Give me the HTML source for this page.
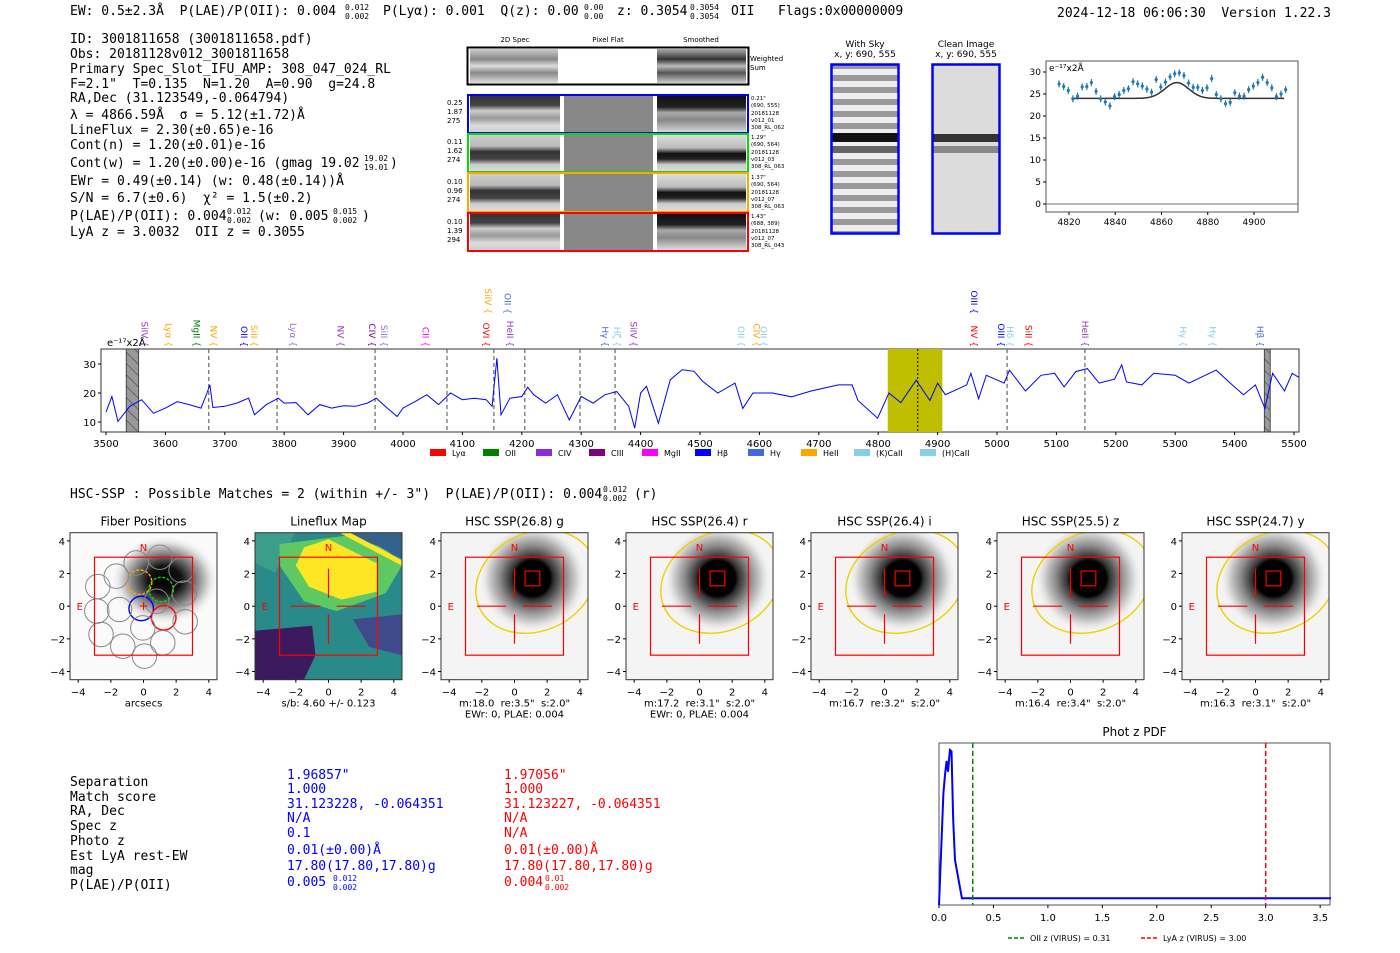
<!DOCTYPE html>
<html><head><meta charset="utf-8">
<style>
html,body{margin:0;padding:0;background:#fff;}
svg{display:block;}
svg text{white-space:pre;}
.m{font-family:"DejaVu Sans Mono","Liberation Mono",monospace;font-size:13px;fill:#000;}
.m[font-size="8"]{font-size:8px;}
.s{font-family:"DejaVu Sans","Liberation Sans",sans-serif;}
</style></head>
<body>
<svg id="root" width="1400" height="953" viewBox="0 0 1400 953" xmlns="http://www.w3.org/2000/svg" xml:space="preserve">
<defs>
<linearGradient id="gws" x1="0" y1="0" x2="0" y2="1">
<stop offset="0" stop-color="#ccc"/><stop offset="0.3" stop-color="#888"/><stop offset="0.5" stop-color="#ddd"/><stop offset="0.7" stop-color="#888"/><stop offset="1" stop-color="#ddd"/>
</linearGradient>
<linearGradient id="gsm" x1="0" y1="0" x2="0" y2="1">
<stop offset="0" stop-color="#aaa"/><stop offset="0.3" stop-color="#333"/><stop offset="0.5" stop-color="#bbb"/><stop offset="0.7" stop-color="#555"/><stop offset="1" stop-color="#ccc"/>
</linearGradient>
<linearGradient id="gTop" x1="0" y1="0" x2="0" y2="1">
<stop offset="0" stop-color="#333"/><stop offset="0.25" stop-color="#444"/><stop offset="0.4" stop-color="#ccc"/><stop offset="0.6" stop-color="#999"/><stop offset="0.8" stop-color="#ddd"/><stop offset="1" stop-color="#ccc"/>
</linearGradient>
<linearGradient id="gMid" x1="0" y1="0" x2="0" y2="1">
<stop offset="0" stop-color="#ccc"/><stop offset="0.3" stop-color="#bbb"/><stop offset="0.45" stop-color="#333"/><stop offset="0.65" stop-color="#444"/><stop offset="0.8" stop-color="#ccc"/><stop offset="1" stop-color="#ddd"/>
</linearGradient>
<linearGradient id="sTop" x1="0" y1="0" x2="0" y2="1">
<stop offset="0" stop-color="#111"/><stop offset="0.3" stop-color="#222"/><stop offset="0.45" stop-color="#aaa"/><stop offset="0.65" stop-color="#888"/><stop offset="1" stop-color="#ddd"/>
</linearGradient>
<linearGradient id="sMid" x1="0" y1="0" x2="0" y2="1">
<stop offset="0" stop-color="#ddd"/><stop offset="0.35" stop-color="#bbb"/><stop offset="0.5" stop-color="#111"/><stop offset="0.65" stop-color="#222"/><stop offset="0.8" stop-color="#ccc"/><stop offset="1" stop-color="#ddd"/>
</linearGradient>
<pattern id="sky" width="10" height="12" patternUnits="userSpaceOnUse">
<rect width="10" height="12" fill="#eee"/><rect y="3" width="10" height="6" fill="#999"/>
</pattern>
<radialGradient id="blob" cx="0.5" cy="0.5" r="0.5">
<stop offset="0" stop-color="#000"/><stop offset="0.33" stop-color="#000"/><stop offset="0.4" stop-color="#333"/><stop offset="0.6" stop-color="#888"/><stop offset="0.85" stop-color="#ddd"/><stop offset="1" stop-color="#f6f6f6" stop-opacity="0"/>
</radialGradient>
<radialGradient id="fblob" cx="0.5" cy="0.5" r="0.5">
<stop offset="0" stop-color="#000"/><stop offset="0.3" stop-color="#111"/><stop offset="0.55" stop-color="#777"/><stop offset="0.8" stop-color="#ddd"/><stop offset="1" stop-color="#fff" stop-opacity="0"/>
</radialGradient>
<pattern id="hatch" width="8" height="8" patternUnits="userSpaceOnUse" patternTransform="rotate(-45)">
<rect width="8" height="8" fill="#999"/><line x1="0" y1="0" x2="0" y2="8" stroke="#333" stroke-width="1"/>
</pattern>
</defs>

<g>
<text class="m" x="70" y="15">EW: 0.5±2.3Å  P(LAE)/P(OII): 0.004</text>
<text class="m" x="345" y="10" font-size="8">0.012</text><text class="m" x="345" y="19" font-size="8">0.002</text>
<text class="m" x="383" y="15">P(Lyα): 0.001  Q(z): 0.00</text>
<text class="m" x="584" y="10" font-size="8">0.00</text><text class="m" x="584" y="19" font-size="8">0.00</text>
<text class="m" x="617" y="15">z: 0.3054</text>
<text class="m" x="690" y="10" font-size="8">0.3054</text><text class="m" x="690" y="19" font-size="8">0.3054</text>
<text class="m" x="731" y="15">OII   Flags:0x00000009</text>
<text class="m" x="1057" y="17">2024-12-18 06:06:30  Version 1.22.3</text>
</g>

<g>
<text class="m" x="70" y="43">ID: 3001811658 (3001811658.pdf)</text>
<text class="m" x="70" y="58">Obs: 20181128v012_3001811658</text>
<text class="m" x="70" y="73">Primary Spec_Slot_IFU_AMP: 308_047_024_RL</text>
<text class="m" x="70" y="88">F=2.1"  T=0.135  N=1.20  A=0.90  g=24.8</text>
<text class="m" x="70" y="102">RA,Dec (31.123549,-0.064794)</text>
<text class="m" x="70" y="119">λ = 4866.59Å  σ = 5.12(±1.72)Å</text>
<text class="m" x="70" y="134">LineFlux = 2.30(±0.65)e-16</text>
<text class="m" x="70" y="149">Cont(n) = 1.20(±0.01)e-16</text>
<text class="m" x="70" y="167">Cont(w) = 1.20(±0.00)e-16 (gmag 19.02</text>
<text class="m" x="364" y="161" font-size="8">19.02</text><text class="m" x="364" y="170" font-size="8">19.01</text>
<text class="m" x="390" y="167">)</text>
<text class="m" x="70" y="185">EWr = 0.49(±0.14) (w: 0.48(±0.14))Å</text>
<text class="m" x="70" y="202">S/N = 6.7(±0.6)  χ² = 1.5(±0.2)</text>
<text class="m" x="70" y="220">P(LAE)/P(OII): 0.004</text>
<text class="m" x="227" y="214" font-size="8">0.012</text><text class="m" x="227" y="223" font-size="8">0.002</text>
<text class="m" x="258" y="220">(w: 0.005</text>
<text class="m" x="333" y="214" font-size="8">0.015</text><text class="m" x="333" y="223" font-size="8">0.002</text>
<text class="m" x="362" y="220">)</text>
<text class="m" x="70" y="236">LyA z = 3.0032  OII z = 0.3055</text>
</g>

<g class="s">
<text x="515" y="42" font-size="7" text-anchor="middle">2D Spec</text>
<text x="608" y="42" font-size="7" text-anchor="middle">Pixel Flat</text>
<text x="701" y="42" font-size="7" text-anchor="middle">Smoothed</text>
<g>
<rect x="470" y="49" width="88" height="34" fill="url(#gws)"/>
<rect x="657" y="49" width="89" height="34" fill="url(#gsm)"/>
<rect x="467.5" y="47.5" width="281" height="37" fill="none" stroke="#000" stroke-width="2"/>
<text x="750" y="61" font-size="7">Weighted</text><text x="750" y="70" font-size="7">Sum</text>
</g>
<g>
<rect x="470" y="96" width="90" height="37" fill="url(#gTop)"/><rect x="564" y="96" width="89" height="37" fill="#888"/><rect x="657" y="96" width="89" height="37" fill="url(#sTop)"/>
<rect x="468" y="95" width="280" height="38" fill="none" stroke="#0000ff" stroke-width="2"/>
<text x="447" y="105" font-size="7">0.25</text><text x="447" y="114" font-size="7">1.87</text><text x="447" y="123" font-size="7">275</text>
<text x="751" y="100" font-size="5.5">0.21"</text><text x="751" y="107" font-size="5.5">(690, 555)</text><text x="751" y="115" font-size="5.5">20181128</text><text x="751" y="122" font-size="5.5">v012_01</text><text x="751" y="129" font-size="5.5">308_RL_062</text>
</g>
<g>
<rect x="470" y="135" width="90" height="37" fill="url(#gMid)"/><rect x="564" y="135" width="89" height="37" fill="#888"/><rect x="657" y="135" width="89" height="37" fill="url(#sMid)"/>
<rect x="468" y="134" width="280" height="38" fill="none" stroke="#00e000" stroke-width="2"/>
<text x="447" y="144" font-size="7">0.11</text><text x="447" y="153" font-size="7">1.62</text><text x="447" y="162" font-size="7">274</text>
<text x="751" y="139" font-size="5.5">1.29"</text><text x="751" y="146" font-size="5.5">(690, 564)</text><text x="751" y="154" font-size="5.5">20181128</text><text x="751" y="161" font-size="5.5">v012_03</text><text x="751" y="168" font-size="5.5">308_RL_063</text>
</g>
<g>
<rect x="470" y="174" width="90" height="37" fill="url(#gMid)"/><rect x="564" y="174" width="89" height="37" fill="#888"/><rect x="657" y="174" width="89" height="37" fill="url(#sMid)"/>
<rect x="468" y="173" width="280" height="39" fill="none" stroke="#ffa500" stroke-width="2"/>
<text x="447" y="184" font-size="7">0.10</text><text x="447" y="193" font-size="7">0.96</text><text x="447" y="202" font-size="7">274</text>
<text x="751" y="179" font-size="5.5">1.37"</text><text x="751" y="186" font-size="5.5">(690, 564)</text><text x="751" y="194" font-size="5.5">20181128</text><text x="751" y="201" font-size="5.5">v012_07</text><text x="751" y="208" font-size="5.5">308_RL_063</text>
</g>
<g>
<rect x="470" y="214" width="90" height="36" fill="url(#gTop)"/><rect x="564" y="214" width="89" height="36" fill="#888"/><rect x="657" y="214" width="89" height="36" fill="url(#sTop)"/>
<rect x="468" y="213" width="280" height="38" fill="none" stroke="#ff0000" stroke-width="2"/>
<text x="447" y="224" font-size="7">0.10</text><text x="447" y="233" font-size="7">1.39</text><text x="447" y="242" font-size="7">294</text>
<text x="751" y="218" font-size="5.5">1.43"</text><text x="751" y="225" font-size="5.5">(688, 389)</text><text x="751" y="233" font-size="5.5">20181128</text><text x="751" y="240" font-size="5.5">v012_07</text><text x="751" y="247" font-size="5.5">308_RL_043</text>
</g>
</g>

<g class="s">
<text x="865" y="47" font-size="9" text-anchor="middle">With Sky</text>
<text x="865" y="57" font-size="9" text-anchor="middle">x, y: 690, 555</text>
<rect x="832" y="65" width="66" height="168" fill="url(#sky)"/>
<rect x="832" y="133" width="66" height="9" fill="#111"/>
<rect x="832" y="146" width="66" height="7" fill="#666"/>
<rect x="831.5" y="64.5" width="67" height="169" fill="none" stroke="#0000ff" stroke-width="2.5"/>
</g>
<g class="s">
<text x="966" y="47" font-size="9" text-anchor="middle">Clean Image</text>
<text x="966" y="57" font-size="9" text-anchor="middle">x, y: 690, 555</text>
<rect x="933" y="65" width="66" height="168" fill="#dcdcdc"/>
<rect x="933" y="134" width="66" height="8" fill="#333"/>
<rect x="933" y="146" width="66" height="7" fill="#888"/>
<rect x="932.5" y="64.5" width="67" height="169" fill="none" stroke="#0000ff" stroke-width="2.5"/>
</g>

<g id="fitChart" class="s"></g>
<g id="specChart" class="s"></g>

<g>
<text class="m" x="70" y="498">HSC-SSP : Possible Matches = 2 (within +/- 3")  P(LAE)/P(OII): 0.004</text>
<text class="m" x="603" y="492" font-size="8">0.012</text><text class="m" x="603" y="501" font-size="8">0.002</text>
<text class="m" x="634" y="498">(r)</text>
</g>

<g id="cutouts" class="s"></g>

<g>
<text class="m" x="70" y="786">Separation</text>
<text class="m" x="70" y="801">Match score</text>
<text class="m" x="70" y="815">RA, Dec</text>
<text class="m" x="70" y="830">Spec z</text>
<text class="m" x="70" y="845">Photo z</text>
<text class="m" x="70" y="860">Est LyA rest-EW</text>
<text class="m" x="70" y="874">mag</text>
<text class="m" x="70" y="889">P(LAE)/P(OII)</text>
<text class="m" style="fill:#0000ff" x="287" y="779">1.96857"</text>
<text class="m" style="fill:#0000ff" x="287" y="793">1.000</text>
<text class="m" style="fill:#0000ff" x="287" y="808">31.123228, -0.064351</text>
<text class="m" style="fill:#0000ff" x="287" y="822">N/A</text>
<text class="m" style="fill:#0000ff" x="287" y="837">0.1</text>
<text class="m" style="fill:#0000ff" x="287" y="854">0.01(±0.00)Å</text>
<text class="m" style="fill:#0000ff" x="287" y="870">17.80(17.80,17.80)g</text>
<text class="m" style="fill:#0000ff" x="287" y="886">0.005</text>
<text class="m" style="fill:#0000ff" x="333" y="881" font-size="8">0.012</text><text class="m" style="fill:#0000ff" x="333" y="890" font-size="8">0.002</text>
<text class="m" style="fill:#ff0000" x="504" y="779">1.97056"</text>
<text class="m" style="fill:#ff0000" x="504" y="793">1.000</text>
<text class="m" style="fill:#ff0000" x="504" y="808">31.123227, -0.064351</text>
<text class="m" style="fill:#ff0000" x="504" y="822">N/A</text>
<text class="m" style="fill:#ff0000" x="504" y="837">N/A</text>
<text class="m" style="fill:#ff0000" x="504" y="854">0.01(±0.00)Å</text>
<text class="m" style="fill:#ff0000" x="504" y="870">17.80(17.80,17.80)g</text>
<text class="m" style="fill:#ff0000" x="504" y="886">0.004</text>
<text class="m" style="fill:#ff0000" x="545" y="881" font-size="8">0.01</text><text class="m" style="fill:#ff0000" x="545" y="890" font-size="8">0.002</text>
</g>

<g id="pdfChart" class="s"></g>
</svg>

<script>
// ---------- Line fit chart data ----------
const fitWave0 = 4815.7;
const fitFlux = [27.3,26.7,25.8,23.9,24.5,26.6,26.7,27.6,25.6,23.9,23.2,22.3,24.4,24.9,25.8,26.2,27.8,27.3,26.8,26.1,25.4,28.3,26.6,27.7,28.9,29.6,29.8,29.2,27.5,26.5,26.5,25.8,26.4,28.5,24.9,23.9,22.8,23.1,25.3,24.5,24.5,26.0,26.8,27.6,28.8,27.6,26.4,24.4,25.0,26.0];
const fitErr = [0.8,0.8,0.8,0.8,0.8,0.8,0.8,0.8,0.8,0.8,0.8,0.8,0.8,0.8,0.8,0.8,0.8,0.8,0.8,0.8,0.8,0.8,0.8,0.8,0.8,0.8,0.8,0.8,0.8,0.8,0.8,0.8,0.8,0.8,0.8,0.8,0.8,0.8,0.8,0.8,0.8,0.8,0.8,0.8,0.8,0.8,0.8,0.8,0.8,0.8];
const fitXTicks = [4820,4840,4860,4880,4900];
const fitYTicks = [0,5,10,15,20,25,30];
const fitModel = {cont:24.0, amp:3.6, center:4866.6, sigma:5.12, from:4821, to:4913};

// ---------- Full spectrum data ----------
const specWave = [3500,3510,3520,3540,3560,3580,3600,3620,3640,3660,3670,3675,3680,3700,3720,3740,3750,3770,3790,3800,3820,3840,3860,3880,3900,3920,3940,3955,3970,3990,4000,4020,4040,4060,4080,4100,4120,4140,4150,4158,4165,4180,4200,4210,4220,4240,4260,4280,4300,4320,4340,4360,4380,4390,4400,4410,4430,4450,4470,4490,4504,4530,4559,4572,4589,4622,4654,4687,4733,4756,4766,4799,4818,4838,4864,4887,4900,4913,4949,4956,4969,4982,5012,5021,5048,5074,5097,5113,5133,5152,5172,5198,5210,5218,5244,5264,5300,5323,5369,5396,5415,5435,5451,5464,5484,5497,5508];
const specFlux = [13.4,18.8,10.2,15.4,17.7,13,14.8,17,16,14.8,20,22.8,15,15.4,16.5,18.2,12.5,16,18.2,16.5,16.7,12.5,16,14.8,15.6,15.4,16.5,18.2,15.4,11.9,14.8,17,19.4,16,20,17.7,18.2,17.7,15.4,32,12.5,18.2,18.8,22,19.4,16.5,19.4,10.7,18.8,16.5,19.4,20.5,15.4,7.9,20,22.3,9.6,24.6,28,27.5,24.1,20,23.4,14.7,20,20,18.7,20.7,22.8,22.8,17.4,11.3,20,16.7,24.4,17.4,23.4,19.4,22.8,26.8,18,26.1,23.4,27.9,20.7,26.1,26.8,22.1,27.4,28.4,23.4,24.8,29.7,23.8,22.8,26.8,26.1,23.4,27.9,22.8,19.4,22.8,14.7,26.8,20.7,26.8,25.4];
const specXTicks = [3500,3600,3700,3800,3900,4000,4100,4200,4300,4400,4500,4600,4700,4800,4900,5000,5100,5200,5300,5400,5500];
const specYTicks = [10,20,30];
const dashWaves = [3673,3788,3953,4074,4153,4205,4298,4357,5017,5148];
const lineNames = ["SiIV","Lyα","MgII","NV","OII","SiII","Lyα","NV","CIV","SiII","CII","OVI","HeII","Hγ","Hζ","SiIV","SiIV","OII","OII","CIV","OII","NV","OIII","Hδ","SiII","HeII","Hγ","Hγ","Hβ","OIII"];
const lineWaves = [3565,3605,3652,3681,3732,3749,3815,3895,3948,3968,4038,4140,4180,4340,4360,4388,4143,4176,4569,4595,4607,4961,5007,5022,5053,5148,5313,5363,5443,4961];
const lineColors = ["#9932cc","#ffa500","#008000","#ffa500","#0000ff","#ffa500","#9370db","#9932cc","#800080","#9370db","#ff00ff","#ff0000","#9932cc","#4169e1","#87ceeb","#9932cc","#ffa500","#4169e1","#87ceeb","#ffa500","#87ceeb","#ff0000","#0000ff","#87ceeb","#ff0000","#9932cc","#87ceeb","#87ceeb","#4169e1","#0000ff"];
const lineRow = [0,0,0,0,0,0,0,0,0,0,0,0,0,0,0,0,1,1,0,0,0,0,0,0,0,0,0,0,0,1];
const legendNames = ["Lyα","OII","CIV","CIII","MgII","Hβ","Hγ","HeII","(K)CaII","(H)CaII"];
const legendColors = ["#ff0000","#008000","#8a2be2","#800080","#ff00ff","#0000ff","#4169e1","#ffa500","#87ceeb","#87ceeb"];

// ---------- Phot-z PDF ----------
const pdfZ = [0,0.04,0.055,0.07,0.083,0.1,0.115,0.13,0.147,0.21,3.6];
const pdfP = [0,0.72,0.84,0.93,0.86,1.0,0.99,0.55,0.29,0.043,0.043];
const pdfXTicks = [0,0.5,1.0,1.5,2.0,2.5,3.0,3.5];
const pdfOiiZ = 0.31;
const pdfLyaZ = 3.00;

// ---------- Cutout panels ----------
const panelTitles = ["Fiber Positions","Lineflux Map","HSC SSP(26.8) g","HSC SSP(26.4) r","HSC SSP(26.4) i","HSC SSP(25.5) z","HSC SSP(24.7) y"];
const panelLine1 = ["arcsecs","s/b: 4.60 +/- 0.123","m:18.0  re:3.5\"  s:2.0\"","m:17.2  re:3.1\"  s:2.0\"","m:16.7  re:3.2\"  s:2.0\"","m:16.4  re:3.4\"  s:2.0\"","m:16.3  re:3.1\"  s:2.0\""];
const panelLine2 = ["","","EWr: 0, PLAE: 0.004","EWr: 0, PLAE: 0.004","","",""];
const panelTicks = [-4,-2,0,2,4];
const fiberX = [-0.14,1.08,-0.24,1.24,-0.45,1.0,2.3,-2.8,-1.67,-2.86,-1.47,-2.6,-1.27,0.06,1.18,-0.04,2.5,2.55,0.8];
const fiberY = [-0.14,1.02,1.47,-0.71,2.65,3.0,2.2,1.2,1.84,-0.3,-0.2,-1.73,-2.45,-3.06,-2.24,-1.33,0.8,-0.95,0.3];
const fiberColor = ["#0000ff","#00dd00","#ffa500","#ff0000","#888","#888","#888","#888","#888","#888","#888","#888","#888","#888","#888","#888","#888","#888","#888"];

const NS = "http://www.w3.org/2000/svg";
function el(tag, parent, attrs){const e=document.createElementNS(NS,tag);for(const k in attrs)e.setAttribute(k,attrs[k]);parent.appendChild(e);return e;}
function txt(parent,x,y,s,attrs){const t=el("text",parent,Object.assign({x:x,y:y},attrs||{}));t.textContent=s;return t;}

// ===== Fit chart =====
(function(){
  const g=document.getElementById("fitChart");
  const L=1046,R=1298,T=61,B=212;
  const fx=w=>1069+(w-4820)*2.3125, fy=v=>204-v*4.4;
  const frame=el("rect",g,{x:L,y:T,width:R-L,height:B-T,fill:"#fff",stroke:"#555","stroke-width":1});
  
  
  const zero=el("line",g,{x1:L,x2:R,y1:fy(0),y2:fy(0),stroke:"#777","stroke-width":1});
  
  
  fitXTicks.forEach(t=>{const x=fx(t);el("line",g,{x1:x,x2:x,y1:B,y2:B+3,stroke:"#000"});
    const lb=txt(g,x,B+13,String(t),{"font-size":9,"text-anchor":"middle"});
    
    });
  fitYTicks.forEach(t=>{const y=fy(t);el("line",g,{x1:L-3,x2:L,y1:y,y2:y,stroke:"#000"});
    const lb=txt(g,L-5,y+3,String(t),{"font-size":9,"text-anchor":"end"});
    
    });
  const un=txt(g,L+3,T+10,"e⁻¹⁷x2Å",{"font-size":9});
  
  
  let pts=[];
  for(let w=fitModel.from;w<=fitModel.to;w+=0.5){const v=fitModel.cont+fitModel.amp*Math.exp(-0.5*Math.pow((w-fitModel.center)/fitModel.sigma,2));pts.push(fx(w).toFixed(1)+","+fy(v).toFixed(1));}
  const m=el("polyline",g,{points:pts.join(" "),fill:"none",stroke:"#333","stroke-width":1.5});
  
  
  fitFlux.forEach((v,i)=>{const x=fx(fitWave0+2*i);
    const e=el("line",g,{x1:x,x2:x,y1:fy(v-fitErr[i]),y2:fy(v+fitErr[i]),stroke:"#1f77b4","stroke-width":1.2});
    
    
    const c=el("circle",g,{cx:x,cy:fy(v),r:1.6,fill:"#1f77b4"});
    
    });
})();

// ===== Spectrum chart =====
(function(){
  const g=document.getElementById("specChart");
  const L=101,R=1299,T=349,B=432;
  const sx=w=>106+(w-3500)*0.594, sy=v=>364-(v-30)*2.9;
  const frame=el("rect",g,{x:L,y:T,width:R-L,height:B-T,fill:"#fff",stroke:"#333","stroke-width":1});
  
  
  const band=el("rect",g,{x:sx(4816),y:T,width:sx(4908)-sx(4816),height:B-T,fill:"#bfbf00"});
  
  
  [[3534,3555],[5450,5460]].forEach(r=>{const h=el("rect",g,{x:sx(r[0]),y:T,width:sx(r[1])-sx(r[0]),height:B-T,fill:"url(#hatch)",stroke:"#333","stroke-width":0.8});
    
    });
  dashWaves.forEach(w=>{const l=el("line",g,{x1:sx(w),x2:sx(w),y1:T,y2:B,stroke:"#666","stroke-width":1.2,"stroke-dasharray":"4,3"});
    
    });
  const c=el("line",g,{x1:sx(4866.6),x2:sx(4866.6),y1:T,y2:B,stroke:"#000","stroke-width":1,"stroke-dasharray":"2,2"});
  
  
  const pl=el("polyline",g,{points:specWave.map((w,i)=>sx(w).toFixed(1)+","+sy(specFlux[i]).toFixed(1)).join(" "),fill:"none",stroke:"#0000ff","stroke-width":1});
  
  
  specXTicks.forEach(t=>{const x=sx(t);el("line",g,{x1:x,x2:x,y1:B,y2:B+3,stroke:"#000"});
    const lb=txt(g,x,B+15,String(t),{"font-size":10,"text-anchor":"middle"});
    
    });
  specYTicks.forEach(t=>{const y=sy(t);el("line",g,{x1:L-3,x2:L,y1:y,y2:y,stroke:"#000"});
    const lb=txt(g,L-5,y+4,String(t),{"font-size":10,"text-anchor":"end"});
    
    });
  const un=txt(g,107,346,"e⁻¹⁷x2Å",{"font-size":10});
  
  
  lineNames.forEach((n,i)=>{const x=sx(lineWaves[i]);const yb=lineRow[i]?305:338;
    const t=txt(g,0,0,n+" {",{"font-size":9,fill:lineColors[i],"text-anchor":"end",transform:"translate("+(x-3)+","+(yb+9)+") rotate(90)"});
    
    });
  let lx=430;
  legendNames.forEach((n,i)=>{const r=el("rect",g,{x:lx,y:449,width:16,height:7,fill:legendColors[i]});
    
    
    const t=txt(g,lx+22,456,n,{"font-size":8});
    
    
    lx+= n.length>5?66:53;});
})();

// ===== Cutout panels =====
(function(){
  const g=document.getElementById("cutouts");
  const lefts=[70,255,441,626,811,997,1182];
  const S=16.33, top=532.7, size=147;
  lefts.forEach((L,p)=>{
    const cx=L+size/2, cy=top+size/2;
    const px=v=>cx+v*S, py=v=>cy-v*S;
    const pg=el("g",g,{});
    
    
    const clipId="clip"+p;
    const cp=el("clipPath",pg,{id:clipId});el("rect",cp,{x:L,y:top,width:size,height:size});
    const img=el("g",pg,{"clip-path":"url(#"+clipId+")"});
    if(p===1){
      el("rect",img,{x:L,y:top,width:size,height:size,fill:"#2a8a8a"});
      el("polygon",img,{points:[[L,top],[L+40,top],[L+20,top+40],[L,top+30]].map(a=>a.join(",")).join(" "),fill:"#3b9d8a"});
      el("polygon",img,{points:[[L,py(-1.5)],[px(-1),py(-1.2)],[px(-0.8),py(-3)],[px(-1.5),py(-4.5)],[L,py(-4.5)]].map(a=>a.join(",")).join(" "),fill:"#3d1a5e"});
      el("polygon",img,{points:[[px(1.5),py(-0.8)],[px(4.5),py(-0.5)],[px(4.5),py(-3)],[px(2.5),py(-2.5)]].map(a=>a.join(",")).join(" "),fill:"#3f4a8a"});
      el("polygon",img,{points:[[px(-3),py(3.8)],[px(2.5),py(4.5)],[px(4.5),py(2.5)],[px(3.5),py(0.8)],[px(0.5),py(-0.3)],[px(-1.5),py(0.3)],[px(-3),py(2.5)]].map(a=>a.join(",")).join(" "),fill:"#5ec962"});
      el("polygon",img,{points:[[px(-1.5),py(3.6)],[px(0),py(4.1)],[px(3),py(2.6)],[px(3),py(0.9)],[px(0.8),py(0.4)],[px(-1.2),py(1.2)],[px(-2),py(2.5)]].map(a=>a.join(",")).join(" "),fill:"#fde725"});
      el("polygon",img,{points:[[px(0.5),py(4.5)],[px(4.5),py(4.5)],[px(4.5),py(2.9)],[px(3),py(3.7)]].map(a=>a.join(",")).join(" "),fill:"#33638d"});
      el("line",img,{x1:px(0.8),y1:py(4.6),x2:px(4.6),y2:py(2.6),stroke:"#fde725","stroke-width":5});
    } else if(p===0){
      el("rect",img,{x:L,y:top,width:size,height:size,fill:"#fafafa"});
      el("ellipse",img,{cx:px(1.3),cy:py(1.6),rx:S*3.4,ry:S*2.8,fill:"url(#fblob)"});
    } else {
      el("rect",img,{x:L,y:top,width:size,height:size,fill:"#f4f4f4"});
      el("circle",img,{cx:px(1.1),cy:py(1.7),r:S*3.3,fill:"url(#blob)"});
      el("ellipse",img,{cx:px(1.3),cy:py(1.5),rx:S*3.8,ry:S*3.0,fill:"none",stroke:"#f0d000","stroke-width":1.4,transform:"rotate(-25 "+px(1.3)+" "+py(1.5)+")"});
      el("rect",img,{x:px(0.65),y:py(2.15),width:S*0.9,height:S*0.9,fill:"none",stroke:"#ff0000","stroke-width":1.2});
    }
    if(p===0){
      fiberX.forEach((fxv,i)=>{const c=el("circle",img,{cx:px(fxv),cy:py(fiberY[i]),r:S*0.75,fill:"none",stroke:fiberColor[i],"stroke-width":fiberColor[i]==="#888"?1:1.4});
        if(i===1||i===2)c.setAttribute("stroke-dasharray","3,1.5");
        
        });
      txt(img,px(0),py(0)+4,"+",{"font-size":12,fill:"#ff0000","text-anchor":"middle"});
    }
    el("rect",pg,{x:px(-3),y:py(3),width:S*6,height:S*6,fill:"none",stroke:"#ff0000","stroke-width":1.2});
    if(p>=1){
      [[[-2.3,0],[-0.5,0]],[[0.5,0],[2.3,0]],[[0,0.5],[0,2.3]],[[0,-0.5],[0,-2.3]]].forEach(s=>el("line",pg,{x1:px(s[0][0]),y1:py(s[0][1]),x2:px(s[1][0]),y2:py(s[1][1]),stroke:"#ff0000","stroke-width":1.2}));
    }
    txt(pg,px(0),py(3.7)+5,"N",{"font-size":10,fill:"#ff0000","text-anchor":"middle"});
    txt(pg,px(-3.9),py(0)+4,"E",{"font-size":10,fill:"#ff0000","text-anchor":"middle"});
    el("rect",pg,{x:L,y:top,width:size,height:size,fill:"none",stroke:"#333","stroke-width":1});
    panelTicks.forEach(t=>{
      el("line",pg,{x1:px(t),x2:px(t),y1:top+size,y2:top+size+3,stroke:"#000"});
      const a=txt(pg,px(t),top+size+16,t<0?"−"+(-t):String(t),{"font-size":10,"text-anchor":"middle"});
      
      
      el("line",pg,{x1:L-3,x2:L,y1:py(t),y2:py(t),stroke:"#000"});
      const b=txt(pg,L-5,py(t)+4,t<0?"−"+(-t):String(t),{"font-size":10,"text-anchor":"end"});
      
      
    });
    const tt=txt(pg,cx,top-7,panelTitles[p],{"font-size":12,"text-anchor":"middle"});
    
    
    const l1=txt(pg,cx,top+size+27,panelLine1[p],{"font-size":10,"text-anchor":"middle"});
    
    
    if(panelLine2[p]){const l2=txt(pg,cx,top+size+38,panelLine2[p],{"font-size":10,"text-anchor":"middle"});
      
      }
  });
})();

// ===== Phot-z PDF =====
(function(){
  const g=document.getElementById("pdfChart");
  const L=939,R=1330,T=743,B=905;
  const zx=z=>939+z*108.9, py=v=>905-v*155;
  const frame=el("rect",g,{x:L,y:T,width:R-L,height:B-T,fill:"#fff",stroke:"#555","stroke-width":1});
  
  
  const title=txt(g,(L+R)/2,736,"Phot z PDF",{"font-size":12,"text-anchor":"middle"});
  
  
  const pl=el("polyline",g,{points:pdfZ.map((z,i)=>zx(z).toFixed(1)+","+py(pdfP[i]).toFixed(1)).join(" "),fill:"none",stroke:"#0000ff","stroke-width":2});
  
  
  const o=el("line",g,{x1:zx(pdfOiiZ),x2:zx(pdfOiiZ),y1:T,y2:B,stroke:"#008000","stroke-width":1.5,"stroke-dasharray":"5,3"});
  
  
  const l=el("line",g,{x1:zx(pdfLyaZ),x2:zx(pdfLyaZ),y1:T,y2:B,stroke:"#ff0000","stroke-width":1.5,"stroke-dasharray":"5,3"});
  
  
  pdfXTicks.forEach(t=>{const x=zx(t);el("line",g,{x1:x,x2:x,y1:B,y2:B+3,stroke:"#000"});
    const lb=txt(g,x,B+16,t.toFixed(1),{"font-size":10,"text-anchor":"middle"});
    
    });
  el("line",g,{x1:1008,x2:1024,y1:938,y2:938,stroke:"#008000","stroke-width":1.5,"stroke-dasharray":"4,2"});
  const a=txt(g,1030,941,"OII z (VIRUS) = "+pdfOiiZ.toFixed(2),{"font-size":8});
  
  
  el("line",g,{x1:1141,x2:1157,y1:938,y2:938,stroke:"#ff0000","stroke-width":1.5,"stroke-dasharray":"4,2"});
  const b=txt(g,1163,941,"LyA z (VIRUS) = "+pdfLyaZ.toFixed(2),{"font-size":8});
  
  
})();
</script>
</body></html>
